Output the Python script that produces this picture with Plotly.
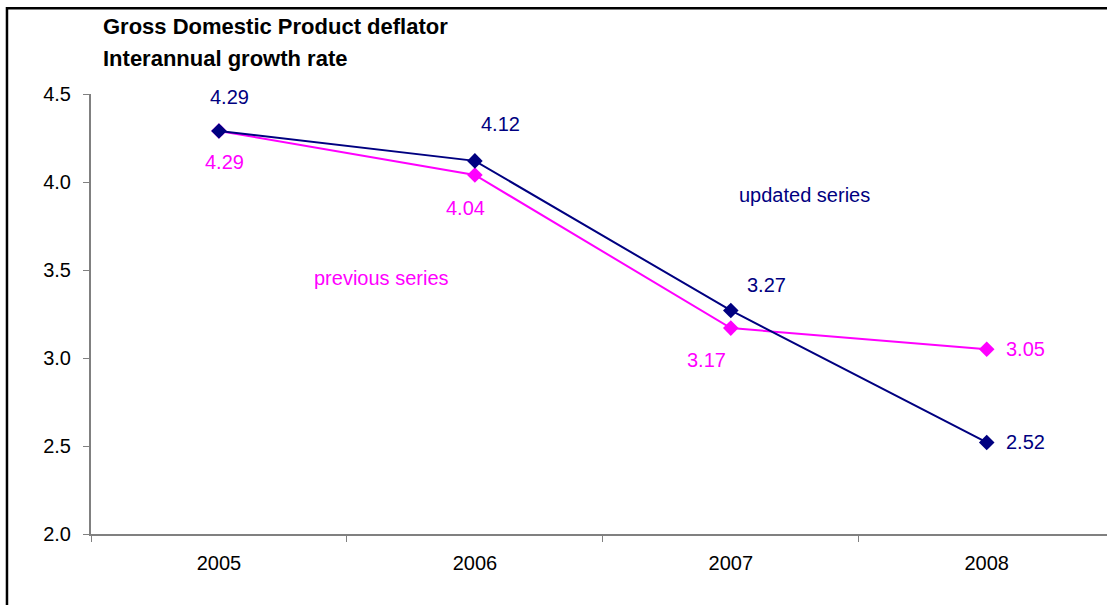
import plotly.graph_objects as go

years = ["2005", "2006", "2007", "2008"]
updated = [4.29, 4.12, 3.27, 2.52]
previous = [4.29, 4.04, 3.17, 3.05]
y_ticks = [2.0, 2.5, 3.0, 3.5, 4.0, 4.5]

NAVY = "#000080"
MAG = "#FF00FF"
FONT = "Liberation Sans, Arial, sans-serif"
FS = 20

fig = go.Figure()
fig.add_trace(go.Scatter(x=years, y=previous, mode="lines+markers", name="previous series",
                         line=dict(color=MAG, width=2),
                         marker=dict(symbol="diamond", size=12, color=MAG)))
fig.add_trace(go.Scatter(x=years, y=updated, mode="lines+markers", name="updated series",
                         line=dict(color=NAVY, width=2),
                         marker=dict(symbol="diamond", size=12, color=NAVY)))

ann = []
upd_shift = [(11, 34), (26, 37), (36, 25), (39, 0)]
prev_shift = [(6, -31), (-9, -33), (-24, -32), (39, 0)]
for i, v in enumerate(updated):
    ann.append(dict(x=i, y=v, text=f"{v:.2f}", showarrow=False,
                    xshift=upd_shift[i][0], yshift=upd_shift[i][1],
                    font=dict(color=NAVY, size=FS, family=FONT)))
for i, v in enumerate(previous):
    ann.append(dict(x=i, y=v, text=f"{v:.2f}", showarrow=False,
                    xshift=prev_shift[i][0], yshift=prev_shift[i][1],
                    font=dict(color=MAG, size=FS, family=FONT)))
ann.append(dict(x=0.637, y=3.455, text="previous series", showarrow=False,
                font=dict(color=MAG, size=FS, family=FONT)))
ann.append(dict(x=2.289, y=3.926, text="updated series", showarrow=False,
                font=dict(color=NAVY, size=FS, family=FONT)))
ann.append(dict(xref="paper", yref="paper", x=0.0098, y=1.154, xanchor="left", yanchor="middle",
                text="<b>Gross Domestic Product deflator</b>", showarrow=False,
                font=dict(color="black", size=22, family=FONT)))
ann.append(dict(xref="paper", yref="paper", x=0.0098, y=1.081, xanchor="left", yanchor="middle",
                text="<b>Interannual growth rate</b>", showarrow=False,
                font=dict(color="black", size=22, family=FONT)))

fig.update_layout(
    width=1107, height=605,
    margin=dict(l=91, r=0, t=94, b=71),
    paper_bgcolor="white", plot_bgcolor="white",
    showlegend=False,
    font=dict(family=FONT, size=FS, color="black"),
    annotations=ann,
    shapes=[dict(type="rect", xref="paper", yref="paper", x0=-0.0827, x1=1.2, y0=-0.4, y1=1.195,
                 line=dict(color="black", width=2.5), fillcolor="rgba(0,0,0,0)", layer="above")],
)
fig.update_xaxes(type="category", range=[-0.5, 3.47], showline=True, linecolor="#808080", linewidth=2,
                 ticks="outside", tickson="boundaries", ticklen=6, tickcolor="#808080", tickwidth=1,
                 showgrid=False, zeroline=False, ticklabelstandoff=10,
                 tickfont=dict(size=FS, family=FONT, color="black"))
fig.update_yaxes(range=[2.0, 4.5], tickvals=y_ticks, tickformat=".1f", showline=True, linecolor="#808080",
                 linewidth=2, ticks="outside", ticklen=6, tickcolor="#808080", tickwidth=1,
                 showgrid=False, zeroline=False, ticklabelstandoff=8,
                 tickfont=dict(size=FS, family=FONT, color="black"))

fig.write_html("out.html")
